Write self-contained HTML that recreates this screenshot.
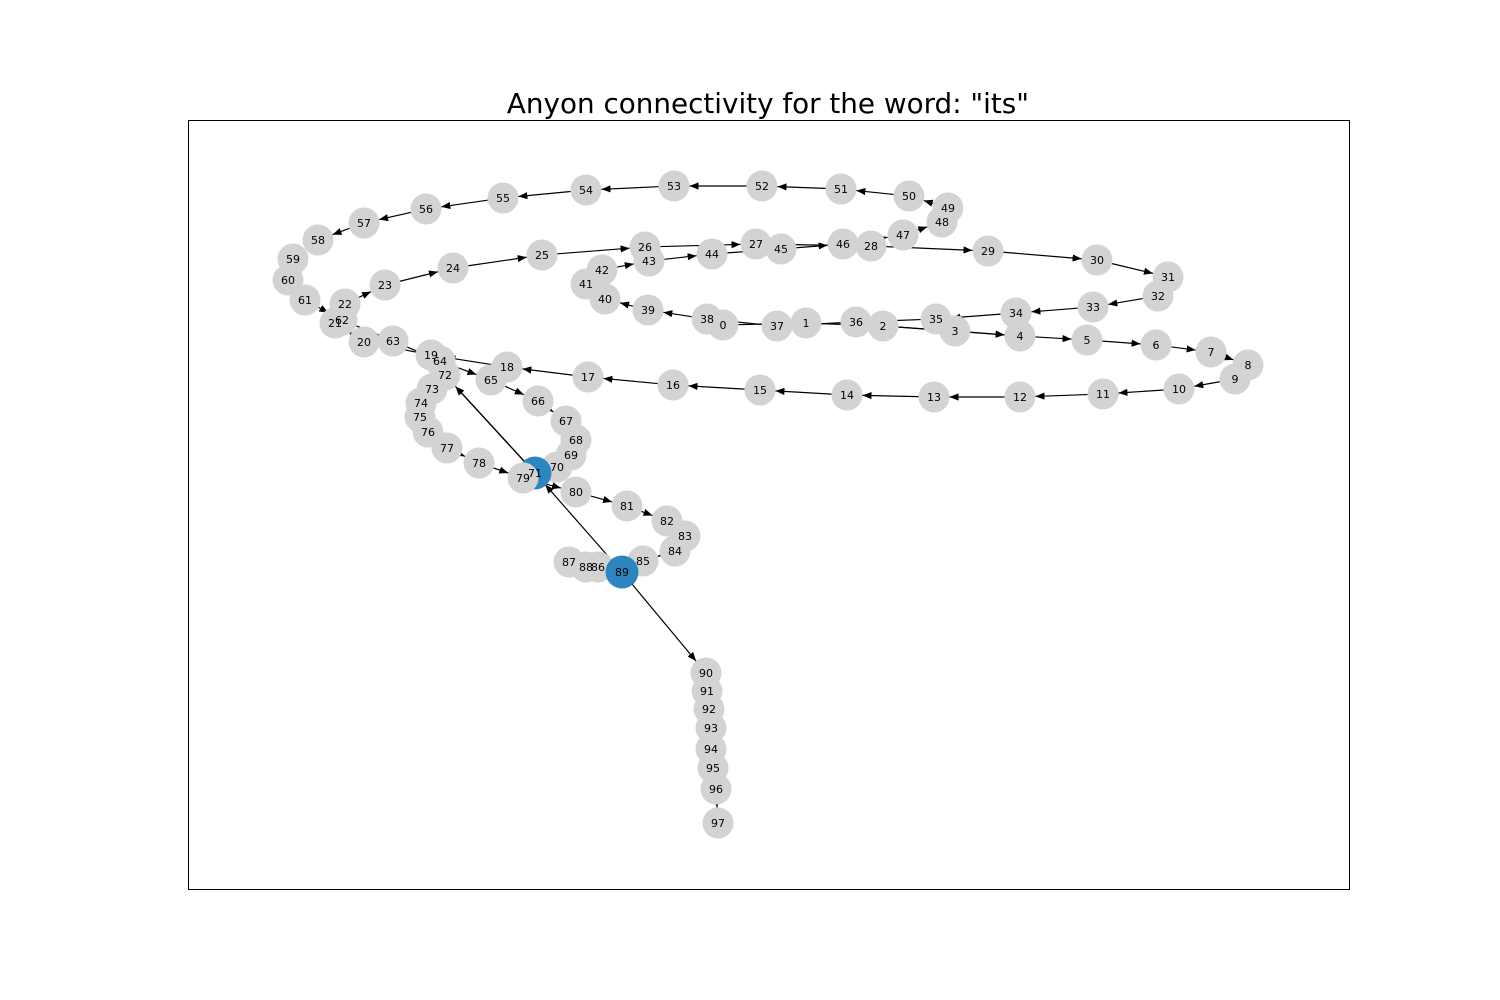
<!DOCTYPE html>
<html><head><meta charset="utf-8"><style>
body{margin:0;background:#fff;}
svg{display:block;}
text{font-family:"DejaVu Sans","Liberation Sans",sans-serif;}
</style></head><body>
<svg id="chart" width="1500" height="1000" xmlns="http://www.w3.org/2000/svg">
<defs><marker id="arr" viewBox="0 0 10 10" refX="10" refY="5" markerWidth="9" markerHeight="9" markerUnits="userSpaceOnUse" orient="auto"><path d="M0,1 L10,5 L0,9 z" fill="#000"/></marker></defs>
<text x="768" y="113" font-size="27.8" text-anchor="middle">Anyon connectivity for the word: "its"</text>
<rect x="188.5" y="120.5" width="1161" height="769" fill="none" stroke="#000" stroke-width="1"/>
<g id="edges"></g><g id="nodes"></g>
</svg>
<script>
const nodeX=[723,806,883,955,1020,1087,1156,1211,1248,1235,1179,1103,1020,934,847,760,673,588,507,431,364,335,345,385,453,542,645,756,871,988,1097,1168,1158,1093,1016,936,856,777,707,648,605,586,602,649,712,781,843,903,942,948,909,841,762,674,586,503,426,364,318,293,288,305,342,393,440,491,538,566,576,571,557,535,445,432,421,420,428,447,479,523,576,627,667,685,675,643,598,569,586,622,706,707,709,711,711,713,716,718];
const nodeY=[325,323,326,331,336,340,345,352,365,379,389,394,397,397,395,390,385,377,367,355,342,323,304,285,268,255,247,244,246,251,260,277,296,307,313,319,322,326,319,310,299,284,270,261,254,249,244,235,222,208,196,189,186,186,190,198,209,223,240,259,280,300,320,341,361,380,401,421,440,455,467,473,375,389,403,417,432,448,463,478,492,506,521,536,551,561,567,562,567,572,673,691,709,728,749,768,789,823];
const highlighted=[71,89];
const extraEdges=[[89,71],[71,72],[2,4]];
const ns="http://www.w3.org/2000/svg";
const R=15.5;
const eg=document.getElementById('edges'), ng=document.getElementById('nodes');
const edges=[];
for(let i=0;i<nodeX.length-1;i++)edges.push([i,i+1]);
extraEdges.forEach(e=>edges.push(e));
edges.forEach(([a,b])=>{
  const dx=nodeX[b]-nodeX[a],dy=nodeY[b]-nodeY[a],d=Math.hypot(dx,dy);
  if(d<2*R+2)return;
  const ux=dx/d,uy=dy/d;
  const l=document.createElementNS(ns,'line');
  l.setAttribute('x1',nodeX[a]+ux*R);l.setAttribute('y1',nodeY[a]+uy*R);
  l.setAttribute('x2',nodeX[b]-ux*R);l.setAttribute('y2',nodeY[b]-uy*R);
  l.setAttribute('stroke','#000');l.setAttribute('stroke-width','1.2');
  l.setAttribute('marker-end','url(#arr)');
  
  
  eg.appendChild(l);
});
for(let i=0;i<nodeX.length;i++){
  const c=document.createElementNS(ns,'circle');
  c.setAttribute('cx',nodeX[i]);c.setAttribute('cy',nodeY[i]);
  c.setAttribute('r',highlighted.includes(i)?16.5:R);
  c.setAttribute('fill',highlighted.includes(i)?'#2e86c1':'#d3d3d3');
  
  
  ng.appendChild(c);
}
for(let i=0;i<nodeX.length;i++){
  const t=document.createElementNS(ns,'text');
  t.setAttribute('x',nodeX[i]);t.setAttribute('y',nodeY[i]+4);
  t.setAttribute('font-size','11');t.setAttribute('text-anchor','middle');
  t.textContent=String(i);
  
  
  ng.appendChild(t);
}
</script>
</body></html>
